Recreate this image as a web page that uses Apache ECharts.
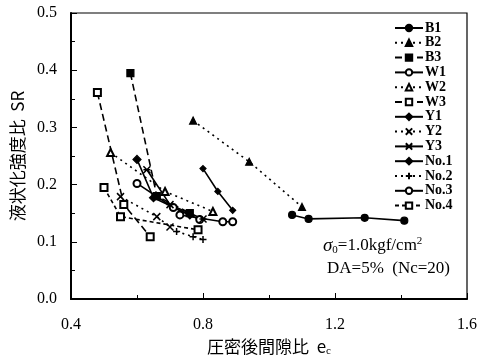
<!DOCTYPE html>
<html><head><meta charset="utf-8">
<script src="https://cdn.jsdelivr.net/npm/echarts@6/dist/echarts.min.js"></script>
<style>html,body{margin:0;padding:0;background:#fff}#c{width:482px;height:359px}</style>
</head><body><div id="c"></div>
<script>
const seriesNames = ['B1','B2','B3','W1','W2','W3','Y1','Y2','Y3','No.1','No.2','No.3','No.4'];
const B1x = [1.07,1.12,1.29,1.41], B1y = [0.147,0.140,0.142,0.137];
const B2x = [0.77,0.94,1.10], B2y = [0.312,0.240,0.161];
const B3x = [0.58,0.66,0.76], B3y = [0.395,0.180,0.150];
const W1x = [0.60,0.71,0.79], W1y = [0.202,0.160,0.139];
const W2x = [0.52,0.685,0.83], W2y = [0.256,0.188,0.153];
const W3x = [0.48,0.56,0.64], W3y = [0.361,0.165,0.109];
const Y1x = [0.80,0.845,0.89], Y1y = [0.228,0.188,0.155];
const Y2x = [0.55,0.66,0.70], Y2y = [0.179,0.144,0.126];
const Y3x = [0.63,0.70,0.80], Y3y = [0.226,0.165,0.140];
const N1x = [0.60,0.65,0.76], N1y = [0.244,0.177,0.147];
const N2x = [0.72,0.77,0.80], N2y = [0.118,0.109,0.104];
const N3x = [0.73,0.86,0.89], N3y = [0.147,0.135,0.135];
const N4x = [0.50,0.55,0.785], N4y = [0.195,0.144,0.121];
const xTicks = [0.4,0.8,1.2,1.6];
const yTicks = [0.0,0.1,0.2,0.3,0.4,0.5];

const X_SYM = 'path://M0,0L10,10M10,0L0,10';
const STAR_SYM = 'path://M0,0L10,10M10,0L0,10M0,5L10,5';
const PLUS_SYM = 'path://M5,0L5,10M0,5L10,5';
const DOT = [2,4], DASH = [7,4], DASHDOT = [4,3];
const styles = [
  {x:B1x,y:B1y,sym:'circle',t:'solid'},
  {x:B2x,y:B2y,sym:'triangle',t:DOT},
  {x:B3x,y:B3y,sym:'rect',t:DASH},
  {x:W1x,y:W1y,sym:'emptyCircle',t:'solid'},
  {x:W2x,y:W2y,sym:'emptyTriangle',t:DOT},
  {x:W3x,y:W3y,sym:'emptyRect',t:DASH},
  {x:Y1x,y:Y1y,sym:'diamond',t:'solid',size:6},
  {x:Y2x,y:Y2y,sym:X_SYM,t:DOT,stroke:true},
  {x:Y3x,y:Y3y,sym:STAR_SYM,t:'solid',stroke:true},
  {x:N1x,y:N1y,sym:'diamond',t:'solid',size:8},
  {x:N2x,y:N2y,sym:PLUS_SYM,t:DOT,stroke:true},
  {x:N3x,y:N3y,sym:'emptyCircle',t:'solid'},
  {x:N4x,y:N4y,sym:'emptyRect',t:DASHDOT}
];
const serif = '"Liberation Serif","DejaVu Serif",serif';
const series = styles.map((s,i)=>({
  name: seriesNames[i], type:'line',
  data: s.x.map((v,k)=>[v,s.y[k]]),
  symbol: s.sym, symbolSize: s.size || 7,
  showSymbol: true,
  lineStyle:{color:'#000', width:1.6, type:s.t},
  itemStyle:{color:'#000', borderColor:'#000', borderWidth: s.stroke?1.5:1.2},
  emphasis:{disabled:true}, animation:false, z: 2
}));

const chart = echarts.init(document.getElementById('c'), null, {renderer:'canvas'});
chart.setOption({
  animation:false,
  grid:{left:71,right:15,top:13,bottom:60,show:true,borderColor:'#000',borderWidth:1.2,
        containLabel:false, outerBoundsMode:'none'},
  legend:{
    orient:'vertical', left:389, top:16, itemWidth:28, itemHeight:8, itemGap:0.8,
    data: seriesNames,
    textStyle:{fontFamily:serif, fontWeight:'bold', fontSize:14, color:'#000', lineHeight:14, padding:[0,0,0,-3]},
    selectedMode:false
  },
  xAxis:{
    type:'value', min:xTicks[0], max:xTicks[xTicks.length-1], interval:0.4,
    axisLine:{lineStyle:{color:'#000',width:2}},
    axisTick:{inside:true,length:6,lineStyle:{color:'#000'}},
    minorTick:{show:true,splitNumber:2,length:4,lineStyle:{color:'#000'}},
    splitLine:{show:false},
    axisLabel:{margin:18,fontFamily:serif,fontSize:16,color:'#000',formatter:v=>v.toFixed(1)},
    name:'圧密後間隙比  e{s|c}', nameLocation:'middle', nameGap:38,
    nameTextStyle:{fontFamily:'"Noto Sans CJK JP"',fontSize:17,color:'#000',
      rich:{s:{fontFamily:serif,fontSize:11,verticalAlign:'bottom',padding:[9,0,0,0]}}}
  },
  yAxis:{
    type:'value', min:yTicks[0], max:yTicks[yTicks.length-1], interval:0.1,
    axisLine:{lineStyle:{color:'#000',width:2}},
    axisTick:{inside:true,length:6,lineStyle:{color:'#000'}},
    minorTick:{show:true,splitNumber:2,length:4,lineStyle:{color:'#000'}},
    splitLine:{show:false},
    axisLabel:{margin:14,fontFamily:serif,fontSize:16,color:'#000',formatter:v=>v.toFixed(1)},
    name:'液状化強度比  SR', nameLocation:'middle', nameGap:45,
    nameTextStyle:{fontFamily:'"Noto Sans CJK JP"',fontSize:17,color:'#000'}
  },
  graphic:[
    {type:'text', left:323, top:236, style:{
      text:'{i|σ}{sub|0}{t|=1.0kgf/cm}{sup|2}',
      rich:{
        i:{fontFamily:serif,fontStyle:'italic',fontSize:19,fill:'#000'},
        sub:{fontFamily:serif,fontSize:11,fill:'#000',padding:[9,0,0,0]},
        t:{fontFamily:serif,fontSize:17,fill:'#000'},
        sup:{fontFamily:serif,fontSize:11,fill:'#000',padding:[0,0,9,0]}
      }}},
    {type:'text', left:327, top:260, style:{text:'DA=5%  (Nc=20)', font:'17px "Liberation Serif"', fill:'#000'}}
  ],
  series: series
});
</script></body></html>
